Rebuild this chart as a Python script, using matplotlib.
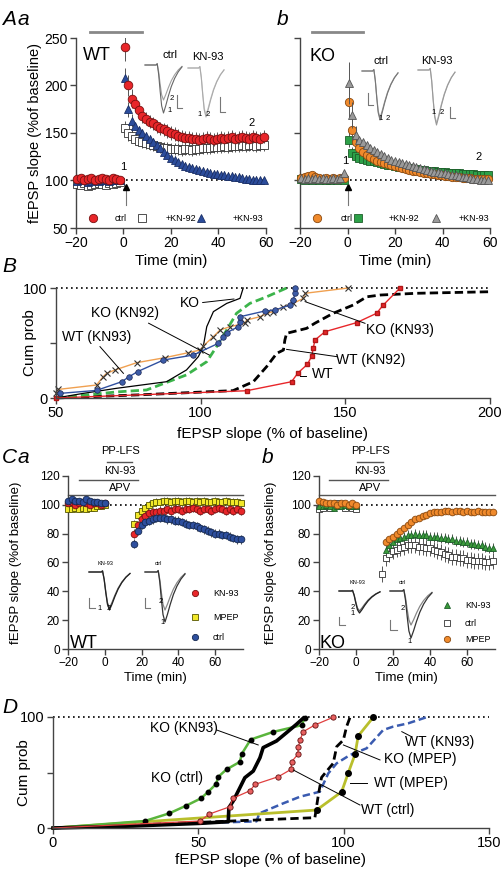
import matplotlib
matplotlib.use('Agg')
import matplotlib.pyplot as plt
import numpy as np

plt.rcParams['font.family'] = ['Liberation Sans', 'DejaVu Sans']

FW, FH = 502, 872
AXC = '#444444'
ERRC = '#555555'

# ---------------- A : LTP time courses ----------------
a_base_t = np.arange(-19.5, -1.4, 1.5)
a_post_t = np.arange(0.5, 59.1, 1.5)

wt_ctrl_base = [102, 103, 101, 102, 103, 101, 102, 103, 102, 101, 103, 102, 101]
wt_kn92_base = [96, 95, 97, 94, 95, 96, 97, 96, 95, 97, 96, 97, 98]
wt_kn93_base = [99, 101, 100, 98, 99, 100, 99, 100, 101, 99, 100, 100, 101]

wt_ctrl_post = [240, 200, 186, 180, 174, 168, 165, 162, 160, 157,
                155, 154, 152, 150, 149, 147, 146, 145, 145, 144,
                144, 143, 144, 145, 144, 143, 144, 145, 144, 145,
                146, 144, 145, 146, 145, 144, 146, 145, 144, 146]
wt_kn92_post = [155, 150, 147, 144, 142, 140, 139, 138, 137, 136,
                135, 134, 134, 133, 133, 133, 132, 133, 133, 132,
                133, 133, 134, 134, 134, 135, 135, 135, 136, 135,
                136, 136, 136, 137, 136, 137, 137, 136, 137, 137]
wt_kn93_post = [208, 175, 163, 157, 153, 150, 147, 144, 141, 137,
                134, 130, 127, 124, 122, 119, 117, 115, 114, 113,
                112, 111, 110, 109, 108, 107, 107, 106, 106, 105,
                105, 104, 104, 103, 102, 102, 101, 101, 100, 100]

ko_ctrl_base = [103, 104, 105, 106, 104, 103, 102, 103, 102, 103, 102, 103, 103]
ko_kn92_base = [102, 101, 102, 101, 102, 101, 102, 101, 101, 102, 101, 102, 101]
ko_kn93_base = [103, 102, 103, 102, 103, 102, 103, 102, 102, 103, 102, 103, 108]

ko_ctrl_post = [183, 153, 140, 134, 130, 127, 125, 123, 121, 119,
                118, 117, 116, 115, 114, 113, 112, 111, 110, 110,
                109, 108, 108, 107, 107, 106, 106, 105, 105, 104,
                104, 104, 103, 103, 103, 102, 102, 102, 102, 102]
ko_kn92_post = [143, 129, 126, 124, 123, 122, 121, 120, 119, 118,
                117, 116, 116, 115, 114, 114, 113, 113, 112, 112,
                111, 111, 110, 110, 110, 109, 109, 109, 108, 108,
                108, 108, 107, 107, 107, 107, 106, 106, 106, 106]
ko_kn93_post = [203, 169, 148, 143, 140, 137, 134, 132, 130, 128,
                126, 124, 122, 120, 119, 118, 117, 116, 115, 114,
                113, 112, 111, 110, 109, 109, 108, 108, 107, 106,
                106, 105, 104, 104, 103, 102, 102, 101, 100, 100]

# sem: first three post points, then typical value
a_err = {
    'wt_ctrl': ([14, 11, 10], 7), 'wt_kn92': ([8, 8, 7], 6), 'wt_kn93': ([10, 8, 7], 4),
    'ko_ctrl': ([16, 12, 8], 3), 'ko_kn92': ([8, 6, 5], 3), 'ko_kn93': ([22, 14, 9], 3),
}

# ---------------- B : cumulative probability ----------------
b_wt_x = [50, 115.9, 131.4, 133.7, 136.9, 138.4, 138.9, 139.5, 143.0, 153.9, 160.8, 163.1, 168.9]
b_wt_y = [0, 6.6, 14.8, 23.0, 30.6, 38.2, 45.2, 52.7, 60.3, 68.5, 77.0, 84.5, 100]
b_wt92_x = [50, 80, 111.2, 118.2, 122.8, 126.3, 128.6, 129.1, 129.7, 136.6, 139.5, 145.8,
            152.7, 157.4, 162, 174.7, 200]
b_wt92_y = [0, 3, 6.7, 14.8, 28.5, 40.6, 43.6, 52.7, 58.8, 63.3, 68, 77, 84.5, 92, 93.6, 95.2, 96.6]
b_ko_x = [50, 59.4, 70.9, 88.2, 95.1, 99.2, 100.9, 102.1, 104.4, 109, 113.6, 114.7]
b_ko_y = [0, 4.2, 8.8, 14.8, 25.5, 37.6, 46.7, 64.8, 78.5, 86, 90.6, 100]
b_ko92_x = [50, 70.9, 81.3, 95.1, 102.1, 105.5, 109, 112.4, 117, 122.8, 129.7]
b_ko92_y = [0, 5.5, 7.3, 21, 33, 46.7, 61.8, 77, 86, 92, 100]
b_wt93_x = [50, 50.8, 64, 66.3, 67.5, 70.4, 77.9, 87.7, 95.7, 99.8, 100.9, 104.4, 106.7, 110.1,
            115.3, 115.9, 120.5, 122.8, 125.1, 128.6, 132, 135.5, 136.1, 151]
b_wt93_y = [4.2, 7.8, 11.8, 19.4, 22.4, 25.5, 32.1, 36.7, 41.2, 43.6, 47.3, 55.8, 61.8, 64.8,
            67.9, 70.9, 73.9, 77, 78.5, 83, 86, 90.6, 95.2, 100]
b_ko93_x = [51.4, 64, 72.7, 75.3, 78.2, 87.1, 97.5, 106.1, 107.8, 109, 113, 113.6, 113.6, 122.2,
            125.7, 130.9, 132, 132.6, 132.6]
b_ko93_y = [4.2, 6.9, 14.8, 19.4, 24, 34.5, 39.1, 49.7, 55.2, 59.4, 64.8, 69.4, 73.9, 79.1,
            80, 84.5, 89, 95.2, 99.7]

# ---------------- C : PP-LFS LTD time courses ----------------
c_base_t = np.arange(-20, 0.1, 2)
c_post_t = np.arange(16, 74.1, 2)
cb_sq_t = np.arange(14, 74.1, 2)

ca_kn93_base = [101, 102, 100, 101, 102, 101, 100, 101, 101, 100, 101]
ca_mpep_base = [97, 97, 98, 97, 98, 97, 98, 98, 99, 99, 100]
ca_ctrl_base = [103, 104, 103, 103, 102, 104, 103, 102, 102, 101, 101]
ca_kn93_post = [80, 86, 90, 92, 94, 95, 95, 96, 96, 97, 96, 97, 97, 96, 97,
                97, 98, 97, 96, 97, 97, 96, 97, 98, 97, 96, 97, 96, 97, 96]
ca_mpep_post = [87, 93, 96, 98, 100, 101, 102, 102, 103, 103, 102, 103, 103, 102, 103,
                103, 102, 103, 102, 103, 102, 102, 103, 102, 102, 103, 102, 102, 102, 101]
ca_ctrl_post = [73, 82, 86, 88, 89, 90, 91, 91, 91, 90, 90, 89, 89, 88, 87,
                86, 86, 85, 84, 83, 82, 81, 80, 80, 79, 79, 78, 77, 76, 76]

cb_mpep_base = [103, 102, 101, 101, 101, 100, 101, 101, 100, 101, 100]
cb_kn93_base = [99, 99, 100, 99, 98, 99, 99, 100, 99, 99, 99]
cb_ctrl_base = [97, 98, 99, 98, 99, 101, 100, 98, 99, 98, 97]
cb_mpep_post = [74, 76, 78, 80, 82, 84, 86, 88, 90, 91, 92, 93, 94, 95, 95,
                95, 96, 96, 95, 96, 96, 95, 96, 95, 95, 96, 95, 95, 95, 95]
cb_kn93_post = [69, 72, 74, 76, 77, 78, 79, 79, 80, 79, 79, 79, 78, 78, 78,
                77, 77, 76, 76, 75, 75, 74, 74, 73, 73, 72, 72, 71, 70, 70]
cb_ctrl_post = [52, 63, 66, 68, 69, 70, 71, 72, 72, 72, 71, 71, 70, 70, 69, 68,
                67, 66, 65, 64, 64, 63, 63, 62, 62, 61, 61, 61, 60, 60, 61]

# ---------------- D : cumulative probability ----------------
d_ko93_x = [0, 31.6, 40, 45.8, 50.9, 53.4, 56.1, 56.9, 59.7, 64.3, 64.9, 68, 75.8, 85.5, 86.7]
d_ko93_y = [0, 6.3, 13.2, 20.1, 26.7, 32.6, 39.6, 46.2, 52.8, 59.6, 66.6, 79.7, 86.6, 92.6, 99.5]
d_koc_x = [0, 27.6, 50.6, 60.3, 60.5, 62, 64.3, 66, 68.9, 71.2, 72.3, 76.9, 80.4, 83.8, 86.1]
d_koc_y = [0, 1.8, 4.2, 5.7, 18.3, 24.3, 36.3, 45.3, 51.3, 63.3, 72.4, 78.4, 86, 93.5, 99]
d_wtc_x = [0, 50.6, 53.8, 60.9, 61.8, 67.8, 69.5, 77.5, 81.9, 82.1, 84.2, 84.4, 85, 86.1, 90.1, 96.4]
d_wtc_y = [0, 6.3, 12.6, 19.2, 26.7, 33.6, 39.3, 46.2, 52.8, 59.7, 66.3, 72.6, 79.3, 86.8, 92.8, 99.8]
d_wtm_x = [0, 90.7, 99.3, 101.6, 103.9, 105, 110.2]
d_wtm_y = [0, 16.2, 32.6, 49.8, 66.3, 82.9, 99.8]
d_kom_x = [0, 40, 70, 90.1, 91.3, 92.4, 96.4, 97.6, 99.9, 101, 102.2]
d_kom_y = [0, 4, 7.2, 9.3, 30, 45.6, 58.3, 73.3, 79.3, 91.3, 99.8]
d_wt93_x = [0, 40, 70, 71, 79.2, 85, 91.8, 94.7, 97.6, 102.2, 107.9, 113.6, 117, 122.2, 128.5]
d_wt93_y = [0, 3.5, 6, 13.2, 22.2, 28.2, 32.7, 49.2, 58.3, 65.8, 71.8, 88.3, 91.3, 94.3, 99.8]

# example fEPSP waveform (normalised time / amplitude)
tr_x = [0, 0.30, 0.33, 0.37, 0.41, 0.45, 0.50, 0.56, 0.63, 0.71, 0.80, 0.90, 1.0]
tr_y = [0, 0, 0.03, -0.2, -0.55, -0.85, -1.0, -0.85, -0.65, -0.45, -0.28, -0.14, -0.04]


fig = plt.figure(figsize=(FW / 100, FH / 100), dpi=100)


def px_axes(l, t, r, b):
    return fig.add_axes([l / FW, 1 - b / FH, (r - l) / FW, (b - t) / FH])


def style(ax, ls=10):
    for s in ['top', 'right']:
        ax.spines[s].set_visible(False)
    for s in ['left', 'bottom']:
        ax.spines[s].set_color(AXC)
        ax.spines[s].set_linewidth(1.0)
    ax.tick_params(direction='out', length=4, width=1, color=AXC, labelsize=ls, pad=2)
    ax.set_facecolor('none')


def err_arr(key, n):
    peak, late = a_err[key]
    e = np.full(n, float(late))
    e[:len(peak)] = peak
    return e


def tc(ax, t, y, e, marker, fc, ec, ms, z):
    ax.errorbar(t, y, yerr=e, fmt='none', ecolor=ERRC, elinewidth=0.7, capsize=0, zorder=z)
    ax.plot(t, y, ls='none', marker=marker, mfc=fc, mec=ec, ms=ms, mew=0.6, zorder=z + 0.5,
            clip_on=False)


# ---------- A panels ----------
axAa = px_axes(76, 38, 266, 228)
axAb = px_axes(300, 38, 490, 228)
a_sets = [
    (axAa, [(wt_kn92_base, wt_kn92_post, 'wt_kn92', 's', 'white', '#333333', 5.3),
            (wt_kn93_base, wt_kn93_post, 'wt_kn93', '^', '#2b4c9b', '#1a2f66', 6.0),
            (wt_ctrl_base, wt_ctrl_post, 'wt_ctrl', 'o', '#e8262a', '#7a1010', 6.2)]),
    (axAb, [(ko_kn92_base, ko_kn92_post, 'ko_kn92', 's', '#2ca048', '#1d5e2a', 5.3),
            (ko_ctrl_base, ko_ctrl_post, 'ko_ctrl', 'o', '#f08a2c', '#8a4a10', 6.0),
            (ko_kn93_base, ko_kn93_post, 'ko_kn93', '^', '#9a9a9a', '#555555', 6.0)]),
]
for ax, series in a_sets:
    style(ax)
    ax.set_xlim(-20, 60)
    ax.set_ylim(50, 250)
    ax.set_xticks([-20, 0, 20, 40, 60])
    ax.set_yticks([50, 100, 150, 200, 250])
    ax.plot([1, 60], [100, 100], color='black', ls=(0, (1, 2)), lw=1.2, zorder=1)
    for z, (yb, yp, key, mk, fc, ec, ms) in enumerate(series):
        tc(ax, a_base_t, yb, 2.5, mk, fc, ec, ms, 3 + 2 * z)
        tc(ax, a_post_t, yp, err_arr(key, len(yp)), mk, fc, ec, ms, 3 + 2 * z)
    ax.set_xlabel('Time (min)', fontsize=11, labelpad=3)
axAa.set_ylabel('fEPSP slope (%of baseline)', fontsize=10.5, labelpad=2)
axAb.set_yticklabels([])

# conditioning bars and arrows
axAa.plot([-14, 8], [256.5, 256.5], color='#888888', lw=2, clip_on=False)
axAb.plot([-15, 6.5], [256.5, 256.5], color='#888888', lw=2, clip_on=False)
for ax, t0 in [(axAa, 1.0), (axAb, 0.0)]:
    ax.plot([t0, t0], [74, 92], color='#777777', lw=0.8, zorder=2)
    ax.plot([t0], [93], marker='^', color='black', ms=5, zorder=2)
axAa.text(-0.3, 114, '1', fontsize=8, ha='center', va='center')
axAa.text(54, 160, '2', fontsize=8, ha='center', va='center')
axAb.text(-1.0, 120, '1', fontsize=8, ha='center', va='center')
axAb.text(55, 125, '2', fontsize=8, ha='center', va='center')
axAa.text(-17, 232, 'WT', fontsize=13, ha='left', va='center')
axAb.text(-15.8, 231, 'KO', fontsize=13, ha='left', va='center')

# ---------- B panel ----------
axB = px_axes(56, 288, 490, 398)
style(axB, 10.5)
axB.set_xlim(50, 200)
axB.set_ylim(0, 100)
axB.set_xticks([50, 100, 150, 200])
axB.set_yticks([0, 50, 100])
axB.set_yticklabels(['0', '', '100'])
axB.plot([50, 200], [100, 100], color='black', ls=(0, (1, 2)), lw=1.2, clip_on=False)
axB.plot(b_wt92_x, b_wt92_y, color='black', ls=(0, (3, 1.5)), lw=2, clip_on=False)
axB.plot(b_ko92_x, b_ko92_y, color='#3cb44b', ls=(0, (3, 1.5)), lw=2, clip_on=False)
axB.plot(b_ko_x, b_ko_y, color='black', lw=0.9, clip_on=False)
axB.plot(b_wt_x, b_wt_y, color='#e8262a', lw=1, marker='s', ms=3, mfc='#e8262a', mec='#b01818',
         clip_on=False)
axB.plot(b_wt93_x, b_wt93_y, color='#f0a050', lw=1, marker='x', ms=4, mec='#333333', mew=0.8,
         clip_on=False)
axB.plot(b_ko93_x, b_ko93_y, color='#3050a0', lw=1, marker='o', ms=4, mfc='#3d5ca8', mec='#1a2550',
         mew=0.5, clip_on=False)
b_lab = [
    ('KO', 99.8, 86, 'right', [(100.7, 111.5), (86.8, 90)]),
    ('KO (KN92)', 73.8, 77.6, 'center', [(82, 103), (68, 39)]),
    ('WT (KN93)', 64, 55.8, 'center', [(65.2, 73.3), (46.7, 22.4)]),
    ('KO (KN93)', 169, 61.8, 'center', [(136.1, 156.8), (87.6, 67.9)]),
    ('WT (KN92)', 158.7, 34.5, 'center', [(129.7, 147), (44.2, 37.6)]),
    ('WT', 138.5, 21.5, 'left', [(134.3, 136.3), (19.6, 19.6)]),
]
for txt, x, y, ha, ln in b_lab:
    axB.text(x, y, txt, fontsize=10, ha=ha, va='center')
    axB.plot(ln[0], ln[1], color='black', lw=0.7)
axB.set_ylabel('Cum prob', fontsize=11, labelpad=-10)
axB.set_xlabel('fEPSP slope (% of baseline)', fontsize=11, labelpad=5)

# ---------- C panels ----------
axCa = px_axes(68, 476, 68 + 174.6, 649)
axCb = px_axes(319, 476, 319 + 175.75, 649)
c_sets = [
    (axCa, 1.2, 14.8, -13.8, 18.3, 8.3, 13,
     [(ca_mpep_base, c_post_t, ca_mpep_post, 2.5, 's', '#f2e829', '#555500', 4.6),
      (ca_kn93_base, c_post_t, ca_kn93_post, 3.0, 'o', '#e8262a', '#7a1010', 4.8),
      (ca_ctrl_base, c_post_t, ca_ctrl_post, 3.0, 'o', '#2e4f9e', '#142850', 4.8)]),
    (axCb, 0.5, 14.6, -14.6, 17.3, 7.6, 10,
     [(cb_ctrl_base, cb_sq_t, cb_ctrl_post, 5.5, 's', 'white', '#333333', 4.6),
      (cb_kn93_base, c_post_t, cb_kn93_post, 3.5, '^', '#3a9a3a', '#1d5e2a', 4.8),
      (cb_mpep_base, c_post_t, cb_mpep_post, 1.8, 'o', '#f08a2c', '#8a4a10', 4.8)]),
]
for ax, p0, p1, k0, k1, tc_mid, ylp, series in c_sets:
    style(ax, 8.5)
    ax.set_xlim(-20, 75)
    ax.set_ylim(0, 120)
    ax.set_xticks([-20, 0, 20, 40, 60])
    ax.set_yticks([0, 20, 40, 60, 80, 100, 120])
    ax.plot([0, 75], [100, 100], color='black', ls=(0, (1, 2)), lw=1.2, zorder=1)
    for z, (yb, tp, yp, e, mk, fc, ec, ms) in enumerate(series):
        tc(ax, c_base_t, yb, 2.0, mk, fc, ec, ms, 3 + 2 * z)
        tc(ax, tp, yp, e, mk, fc, ec, ms, 3 + 2 * z)
    ax.plot([-20, 75], [106.8, 106.8], color='#555555', lw=1, clip_on=False)
    ax.plot([k0, k1], [117, 117], color='#555555', lw=1, clip_on=False)
    ax.plot([p0, p1], [130, 130], color='#555555', lw=1, clip_on=False)
    ax.text(tc_mid, 112, 'APV', fontsize=8, ha='center', va='center')
    ax.text(tc_mid, 123.5, 'KN-93', fontsize=8, ha='center', va='center')
    ax.text(tc_mid, 137, 'PP-LFS', fontsize=8, ha='center', va='center')
    ax.set_xlabel('Time (min)', fontsize=9.5, labelpad=2)
    ax.set_ylabel('fEPSP slope (%of baseline)', fontsize=9.5, labelpad=ylp)

# ---------- D panel ----------
axD = px_axes(53, 717, 489, 828)
style(axD, 10.5)
axD.set_xlim(0, 150)
axD.set_ylim(0, 100)
axD.set_xticks([0, 50, 100, 150])
axD.set_yticks([0, 50, 100])
axD.set_yticklabels(['0', '', '100'])
axD.plot([0, 150], [100, 100], color='black', ls=(0, (1, 2)), lw=1.2, clip_on=False)
axD.plot(d_wt93_x, d_wt93_y, color='#3a5bb0', ls=(0, (3, 1.5)), lw=1.8, clip_on=False)
axD.plot(d_kom_x, d_kom_y, color='black', ls=(0, (3, 1.5)), lw=2, clip_on=False)
axD.plot(d_wtm_x, d_wtm_y, color='#b9bf2c', lw=2, clip_on=False)
axD.plot(d_wtm_x[1:], d_wtm_y[1:], ls='none', marker='o', ms=4, color='black', clip_on=False)
axD.plot(d_ko93_x, d_ko93_y, color='#5ab53c', lw=1.8, clip_on=False)
axD.plot(d_ko93_x[1:], d_ko93_y[1:], ls='none', marker='o', ms=3.2, color='black', clip_on=False)
axD.plot(d_koc_x, d_koc_y, color='black', lw=2.6, clip_on=False)
axD.plot(d_wtc_x, d_wtc_y, color='#e04040', lw=0.9, clip_on=False)
axD.plot(d_wtc_x[1:], d_wtc_y[1:], ls='none', marker='o', ms=3.8, mfc='#e86060', mec='#601010',
         mew=0.6, clip_on=False)
d_lab = [
    ('KO (KN93)', 45, 89.8, [(56.3, 70.6), (88.3, 74.8)]),
    ('KO (ctrl)', 42.8, 44.8, None),
    ('WT (KN93)', 133, 77.8, [(120, 123.4), (86.8, 82.2)]),
    ('KO (MPEP)', 126.5, 62.2, [(99.9, 112.5), (74.8, 61.3)]),
    ('WT (MPEP)', 123.3, 40.2, [(102.2, 107.9), (40.2, 40.2)]),
    ('WT (ctrl)', 115.2, 16.2, [(82.7, 105.6), (52.2, 20.7)]),
]
for txt, x, y, ln in d_lab:
    axD.text(x, y, txt, fontsize=10, ha='center', va='center')
    if ln:
        axD.plot(ln[0], ln[1], color='black', lw=0.7)
axD.set_ylabel('Cum prob', fontsize=11, labelpad=-8)
axD.set_xlabel('fEPSP slope (% of baseline)', fontsize=11, labelpad=2)

# ---------- overlay in pixel space: letters, legends, example traces ----------
ov = fig.add_axes([0, 0, 1, 1], zorder=20)
ov.set_xlim(0, FW)
ov.set_ylim(FH, 0)
ov.axis('off')
ov.patch.set_alpha(0)

for txt, x, y in [('A', 2, 25), ('a', 18, 25), ('b', 277, 25), ('B', 2, 272),
                  ('C', 2, 463), ('a', 18, 463), ('b', 262, 463), ('D', 2, 713)]:
    ov.text(x, y, txt, fontsize=15, fontstyle='italic', ha='left', va='baseline')

ov.text(70, 648, 'WT', fontsize=13, ha='left', va='baseline')
ov.text(320, 648, 'KO', fontsize=13, ha='left', va='baseline')

# A legends
for x, mk, fc, ec in [(93, 'o', '#e8262a', '#7a1010'), (142, 's', 'white', '#333333'),
                      (201, '^', '#2b4c9b', '#1a2f66'), (317, 'o', '#f08a2c', '#8a4a10'),
                      (358, 's', '#2ca048', '#1d5e2a'), (436, '^', '#9a9a9a', '#555555')]:
    ov.plot([x], [218], marker=mk, mfc=fc, mec=ec, ms=6, mew=0.6)
for x, txt in [(121, 'ctrl'), (181, '+KN-92'), (248, '+KN-93'),
               (347, 'ctrl'), (404, '+KN-92'), (474, '+KN-93')]:
    ov.text(x, 218, txt, fontsize=6.5, ha='center', va='center')

# C legends
for x, y, mk, fc, ec, txt in [(195, 593, 'o', '#e8262a', '#7a1010', 'KN-93'),
                              (195, 617, 's', '#f2e829', '#555500', 'MPEP'),
                              (195, 637, 'o', '#2e4f9e', '#142850', 'ctrl'),
                              (447, 605, '^', '#3a9a3a', '#1d5e2a', 'KN-93'),
                              (447, 623, 's', 'white', '#333333', 'ctrl'),
                              (447, 639, 'o', '#f08a2c', '#8a4a10', 'MPEP')]:
    ov.plot([x], [y], marker=mk, mfc=fc, mec=ec, ms=4.5, mew=0.6)
    ov.text(x + 18, y, txt, fontsize=6.5, ha='left', va='center')

# example traces: x0, y0, width, amp1, amp2, colours, lw, title, title pos, scale bar, labels
insets = [
    (145, 65, 37, 48, 35, '#666666', '#a0a0a0', 0.8, 'ctrl', (170, 55), 8, (177, 95, 108, 182),
     [('2', 172, 98), ('1', 170, 110)]),
    (188, 68, 36, 49, 47, '#aaaaaa', '#cccccc', 0.8, 'KN-93', (208, 57), 8, (220, 97, 112, 225),
     [('1', 200, 115), ('2', 208, 115)]),
    (362, 71, 36, 49, 47, '#777777', '#9a9a9a', 0.8, 'ctrl', (381, 61), 8, (368, 93, 105, 373),
     [('1', 381, 118), ('2', 388, 118)]),
    (418, 70, 37, 55, 53, '#999999', '#bbbbbb', 0.8, 'KN-93', (437, 61), 8, (450, 107, 118, 455),
     [('1', 434, 113), ('2', 442, 113)]),
    (89, 572, 41, 38, 36, '#222222', '#666666', 0.9, 'KN-93', (105, 563), 4, (89, 598, 608, 95),
     [('1', 100, 608), ('2', 109, 608)]),
    (145, 572, 40, 50, 38, '#333333', '#888888', 0.9, 'ctrl', (158, 563), 4, (145, 598, 608, 150),
     [('2', 161, 601), ('1', 163, 622)]),
    (339, 591, 41, 22, 20, '#222222', '#666666', 0.9, 'KN-93', (357, 582), 4, (339, 617, 625, 345),
     [('2', 353, 607), ('1', 353, 613)]),
    (390, 591, 42, 47, 34, '#333333', '#888888', 0.9, 'ctrl', (402, 582), 4, (390, 620, 630, 397),
     [('2', 403, 608), ('1', 410, 641)]),
]
tx = np.array(tr_x)
ty = np.array(tr_y)
for x0, y0, w, a1, a2, c1, c2, lw, title, tpos, tfs, sb, labs in insets:
    ov.plot(x0 + tx * w, y0 - ty * a2, color=c2, lw=lw)
    ov.plot(x0 + tx * w, y0 - ty * a1, color=c1, lw=lw)
    ov.text(tpos[0], tpos[1], title, fontsize=tfs, ha='center', va='center')
    sx, st, sbm, sr = sb
    ov.plot([sx, sx, sr], [st, sbm, sbm], color='#777777', lw=0.8)
    for t, lx, ly in labs:
        ov.text(lx, ly, t, fontsize=5.5, ha='center', va='center')

fig.savefig('out.png', dpi=100)
